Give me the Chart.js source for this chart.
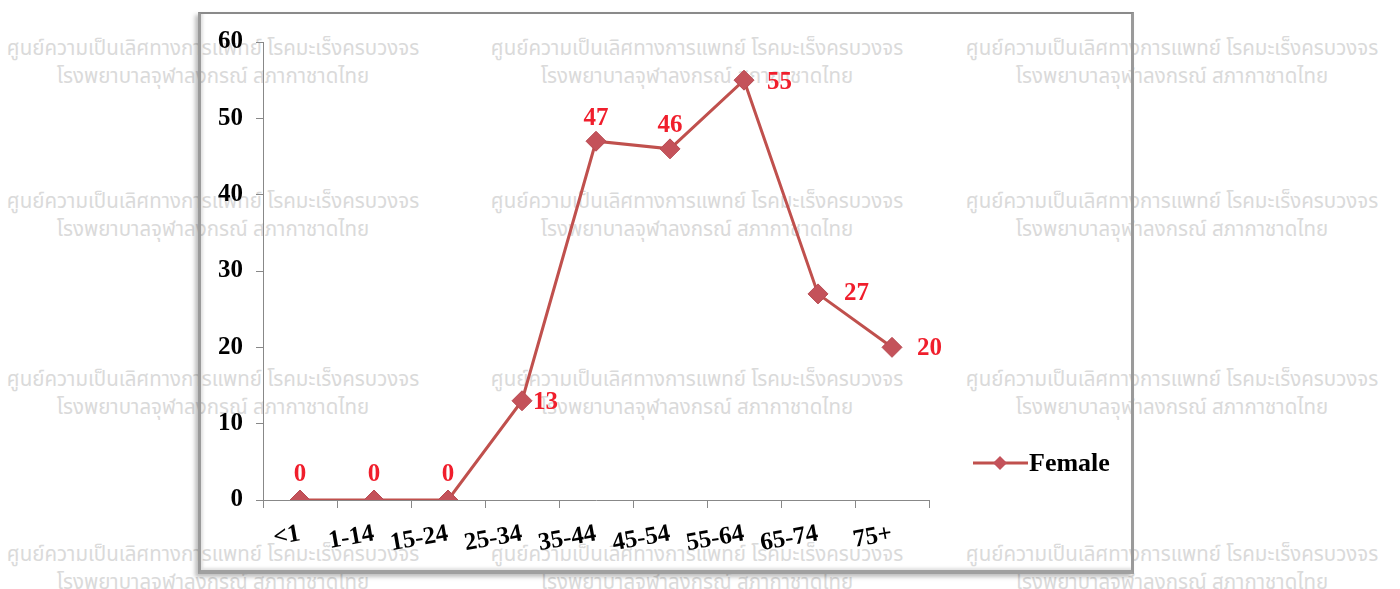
<!DOCTYPE html>
<html>
<head>
<meta charset="utf-8">
<script src="https://cdn.jsdelivr.net/npm/chart.js@4"></script>
<style>
  html, body { margin:0; padding:0; background:#fff; }
  #wrap { position:relative; width:1400px; height:589px; overflow:hidden; background:#fff; }
  .wm { position:absolute; width:520px; text-align:center; color:#dadada;
        font-family:"Noto Sans Thai","Noto Sans","DejaVu Sans",sans-serif; font-size:20.5px; line-height:28px; white-space:nowrap; }
  #frame { position:absolute; left:198px; top:12px; width:930px; height:556px;
           border-top:2px solid #8a8a8a; border-left:3px solid #9a9a9a; border-right:3px solid #9a9a9a; border-bottom:4px solid #a0a0a0;
           box-shadow: -3px 3px 4px rgba(0,0,0,0.25), inset 2px -2px 3px rgba(0,0,0,0.12); }
  canvas { position:absolute; left:0; top:0; }
</style>
</head>
<body>
<div id="wrap">
  <div id="wms"></div>
  <div id="frame"></div>
  <canvas id="c" width="1400" height="589"></canvas>
</div>
<script>
// ---- data ----
const categories = ['<1', '1-14', '15-24', '25-34', '35-44', '45-54', '55-64', '65-74', '75+'];
const femaleValues = [0, 0, 0, 13, 47, 46, 55, 27, 20];
const seriesName = 'Female';
const yMin = 0;
const yMax = 60;
const yStep = 10;
const watermarkLine1 = 'ศูนย์ความเป็นเลิศทางการแพทย์ โรคมะเร็งครบวงจร';
const watermarkLine2 = 'โรงพยาบาลจุฬาลงกรณ์ สภากาชาดไทย';

// ---- watermark (background text) ----
const wmCols = [213, 697, 1172];
const wmRows = [35, 188, 366, 541];
const wmBox = document.getElementById('wms');
wmRows.forEach(r => wmCols.forEach(c => {
  const d = document.createElement('div');
  d.className = 'wm';
  d.style.left = (c - 260) + 'px';
  d.style.top = r + 'px';
  d.innerHTML = watermarkLine1 + '<br>' + watermarkLine2;
  wmBox.appendChild(d);
}));

// ---- style settings ----
const lineColor = '#c0504d';
const labelColor = '#f01e2c';
const serif = '"Liberation Serif","Times New Roman",serif';
// placement of value labels: [dx, dy, align]
const labelPlacement = [
  [0, -25, 'center'], [0, -25, 'center'], [0, -25, 'center'],
  [11, 2, 'left'], [0, -23, 'center'], [0, -23, 'center'],
  [23, 2, 'left'], [26, 0, 'left'], [25, 1, 'left']
];

const valueLabels = {
  id: 'valueLabels',
  afterDatasetsDraw(chart) {
    const ctx = chart.ctx;
    const meta = chart.getDatasetMeta(0);
    const vals = chart.data.datasets[0].data;
    ctx.save();
    ctx.font = 'bold 25px ' + serif;
    ctx.fillStyle = labelColor;
    ctx.textBaseline = 'middle';
    meta.data.forEach((pt, i) => {
      const p = labelPlacement[i];
      ctx.textAlign = p[2];
      ctx.fillText(String(vals[i]), pt.x + p[0], pt.y + p[1]);
    });
    ctx.restore();
  }
};

const sideLegend = {
  id: 'sideLegend',
  afterDraw(chart) {
    const ctx = chart.ctx;
    const ds = chart.data.datasets[0];
    const x0 = chart.chartArea.right + 44, y = 463;
    ctx.save();
    ctx.strokeStyle = ds.borderColor;
    ctx.lineWidth = 3;
    ctx.beginPath(); ctx.moveTo(x0, y); ctx.lineTo(x0 + 55, y); ctx.stroke();
    ctx.fillStyle = ds.pointBackgroundColor;
    ctx.beginPath();
    ctx.moveTo(x0 + 27, y - 7); ctx.lineTo(x0 + 34, y); ctx.lineTo(x0 + 27, y + 7); ctx.lineTo(x0 + 20, y); ctx.closePath();
    ctx.fill();
    ctx.font = 'bold 26px ' + serif;
    ctx.fillStyle = '#000';
    ctx.textAlign = 'left';
    ctx.textBaseline = 'middle';
    ctx.fillText(ds.label, x0 + 56, y + 1);
    ctx.restore();
  }
};

new Chart(document.getElementById('c'), {
  type: 'line',
  data: {
    labels: categories,
    datasets: [{
      label: seriesName,
      data: femaleValues,
      borderColor: lineColor,
      borderWidth: 3,
      pointStyle: 'rectRot',
      pointRadius: 10,
      pointHoverRadius: 10,
      pointBackgroundColor: '#c4525a',
      pointBorderColor: '#b84a52',
      pointBorderWidth: 1,
      tension: 0,
      fill: false
    }]
  },
  options: {
    responsive: false,
    animation: false,
    events: [],
    layout: { padding: { top: 42, left: 0, right: 471, bottom: 0 } },
    plugins: { legend: { display: false }, tooltip: { enabled: false } },
    scales: {
      x: {
        type: 'category',
        offset: true,
        grid: { offset: true, drawOnChartArea: false, drawTicks: true, tickLength: 8, color: '#888', lineWidth: 1 },
        border: { display: true, color: '#888', width: 1 },
        ticks: { color: '#000', font: { family: serif, size: 25, weight: 'bold' }, minRotation: 10, maxRotation: 10, padding: 11, autoSkip: false },
        afterFit(s) { s.height = 89; }
      },
      y: {
        min: yMin, max: yMax,
        grid: { drawOnChartArea: false, drawTicks: true, tickLength: 7, color: '#888', lineWidth: 1 },
        border: { display: true, color: '#888', width: 1 },
        ticks: { stepSize: yStep, color: '#000', font: { family: serif, size: 25, weight: 'bold' }, padding: 13 },
        afterFit(s) { s.width = 263; }
      }
    }
  },
  plugins: [valueLabels, sideLegend]
});
</script>
</body>
</html>
